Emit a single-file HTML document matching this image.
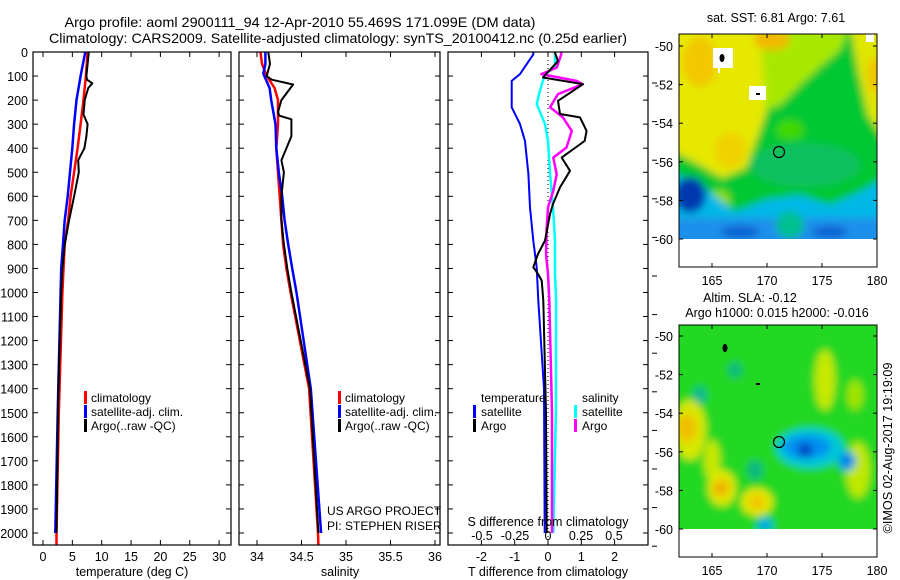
<!DOCTYPE html>
<html><head><meta charset="utf-8"><style>
html,body{margin:0;padding:0;background:#fff;}
svg{display:block;font-family:"Liberation Sans",sans-serif;}
text{fill:#000;}
</style></head><body>
<svg id="chart" width="900" height="580" viewBox="0 0 900 580" xmlns="http://www.w3.org/2000/svg">
<defs>
<filter id="blur" x="-10%" y="-10%" width="120%" height="120%"><feGaussianBlur stdDeviation="4"/></filter>
<clipPath id="clipTop"><rect x="679" y="34" width="198" height="205"/></clipPath>
<clipPath id="clipBot"><rect x="679" y="325" width="198" height="204"/></clipPath>
</defs>
<text x="300" y="27" font-size="14" text-anchor="middle" textLength="471" lengthAdjust="spacingAndGlyphs">Argo profile: aoml 2900111_94 12-Apr-2010 55.469S 171.099E (DM data)</text>
<text x="338" y="43" font-size="14" text-anchor="middle" textLength="578" lengthAdjust="spacingAndGlyphs">Climatology: CARS2009. Satellite-adjusted climatology: synTS_20100412.nc (0.25d earlier)</text>

<g id="p1"></g>
<g id="p2"></g>
<g id="p3"></g>

<!-- top map -->
<g>
<text x="776" y="22" font-size="12.5" text-anchor="middle">sat. SST: 6.81 Argo: 7.61</text>
<g clip-path="url(#clipTop)">
<g filter="url(#blur)">
<rect x="670" y="25" width="215" height="225" fill="#00c830"/>
<polygon points="670,25 790,25 785,60 772,95 760,130 746,168 722,178 700,165 670,150" fill="#e6e800"/>
<polygon points="760,25 850,25 840,50 822,65 800,85 780,105 765,110" fill="#a8e800"/>
<polygon points="850,25 885,25 885,140 868,115 858,70" fill="#dfe600"/>
<ellipse cx="700" cy="62" rx="18" ry="25" fill="#f2c800"/>
<ellipse cx="772" cy="40" rx="18" ry="10" fill="#f2b800"/>
<ellipse cx="875" cy="75" rx="8" ry="18" fill="#f0c400"/>
<ellipse cx="730" cy="150" rx="16" ry="18" fill="#f0d200"/>
<ellipse cx="790" cy="130" rx="14" ry="10" fill="#40d800"/>
<ellipse cx="805" cy="165" rx="55" ry="22" fill="#10c060"/>
<ellipse cx="720" cy="200" rx="10" ry="10" fill="#90e000"/>
<ellipse cx="758" cy="215" rx="8" ry="12" fill="#50d000"/>
<polygon points="670,172 705,188 735,212 765,200 800,195 830,205 860,192 885,178 885,250 670,250" fill="#00b8e8"/>
<polygon points="670,218 885,218 885,250 670,250" fill="#1a90ea"/>
<ellipse cx="690" cy="195" rx="16" ry="18" fill="#0038b0"/>
<ellipse cx="740" cy="232" rx="20" ry="6" fill="#1060d0"/>
<ellipse cx="830" cy="232" rx="18" ry="6" fill="#1060d0"/>
<ellipse cx="790" cy="225" rx="14" ry="14" fill="#00c090"/>
</g>
<rect x="713" y="48" width="20" height="20" fill="#fff"/>
<rect x="718" y="68" width="2" height="5" fill="#fff"/>
<ellipse cx="722" cy="58" rx="2.5" ry="4" fill="#000"/>
<rect x="749" y="86" width="17" height="14" fill="#fff"/>
<rect x="756" y="93" width="4" height="2" fill="#000"/>
<rect x="866" y="34" width="8" height="8" fill="#fff"/>
</g>
<circle cx="779" cy="152" r="5.5" fill="none" stroke="#000" stroke-width="1.2"/>
<rect x="679" y="34" width="198" height="233" fill="none" stroke="#000" stroke-width="1"/>
<g id="mapTopAxes"></g>
</g>

<!-- bottom map -->
<g>
<text x="750" y="302" font-size="12.5" text-anchor="middle">Altim. SLA: -0.12</text>
<text x="777" y="317" font-size="12.5" text-anchor="middle">Argo h1000: 0.015 h2000: -0.016</text>
<g clip-path="url(#clipBot)">
<g filter="url(#blur)">
<rect x="670" y="318" width="215" height="220" fill="#20d820"/>
<ellipse cx="690" cy="430" rx="16" ry="30" fill="#d8e800"/>
<ellipse cx="687" cy="428" rx="10" ry="14" fill="#f0c000"/>
<ellipse cx="712" cy="460" rx="8" ry="20" fill="#c8e800"/>
<ellipse cx="722" cy="488" rx="14" ry="18" fill="#e0e800"/>
<ellipse cx="721" cy="488" rx="8" ry="8" fill="#f0b000"/>
<ellipse cx="757" cy="502" rx="16" ry="14" fill="#e6e800"/>
<ellipse cx="757" cy="502" rx="7" ry="7" fill="#f0c000"/>
<ellipse cx="825" cy="380" rx="10" ry="30" fill="#c8e800"/>
<ellipse cx="858" cy="470" rx="12" ry="28" fill="#c0e800"/>
<ellipse cx="855" cy="395" rx="8" ry="15" fill="#a0e400"/>
<ellipse cx="735" cy="370" rx="7" ry="8" fill="#10b880"/>
<ellipse cx="700" cy="395" rx="7" ry="9" fill="#10b890"/>
<ellipse cx="755" cy="470" rx="8" ry="10" fill="#10b880"/>
<ellipse cx="765" cy="525" rx="8" ry="8" fill="#00b0e0"/>
<ellipse cx="810" cy="448" rx="34" ry="20" fill="#00c8d8"/>
<ellipse cx="807" cy="447" rx="24" ry="12" fill="#0090f0"/>
<ellipse cx="805" cy="450" rx="7" ry="7" fill="#0040c0"/>
<ellipse cx="847" cy="461" rx="9" ry="10" fill="#00a0f0"/>
<ellipse cx="847" cy="461" rx="4" ry="5" fill="#0070e0"/>
</g>
<ellipse cx="725" cy="348" rx="2.5" ry="4" fill="#000"/>
<rect x="756" y="383" width="4" height="2" fill="#000"/>
</g>
<circle cx="779" cy="442" r="5.5" fill="none" stroke="#000" stroke-width="1.2"/>
<rect x="679" y="325" width="198" height="232" fill="none" stroke="#000" stroke-width="1"/>
<g id="mapBotAxes"></g>
</g>
<text transform="translate(892,448) rotate(-90)" font-size="12.5" text-anchor="middle" textLength="171" lengthAdjust="spacingAndGlyphs">©IMOS 02-Aug-2017 19:19:09</text>
</svg>
<script>
// ---- data ----
const depthTicks = [0,100,200,300,400,500,600,700,800,900,1000,1100,1200,1300,1400,1500,1600,1700,1800,1900,2000];
const tempTicks = [0,5,10,15,20,25,30];
const salTicks = [34,34.5,35,35.5,36];
const salTickLabels = ["34","34.5","35","35.5","36"];
const tdiffTicks = [-2,-1,0,1,2];
const sdiffTicks = [-0.5,-0.25,0,0.25,0.5];
const sdiffTickLabels = ["-0.5","-0.25","0","0.25","0.5"];
const lonTicks = [165,170,175,180];
const latTicks = [-50,-52,-54,-56,-58,-60];

const tArgoDepth = [0,50,100,115,130,150,200,260,300,350,400,450,500,600,700,800,900,1000,1400,2000];
const tArgo      = [7.8,7.6,7.4,7.5,8.4,7.7,7.1,6.9,7.6,7.4,7.05,6.0,6.1,5.3,4.45,3.7,3.3,3.1,2.6,2.3];
const tClimDepth = [0,100,200,300,400,500,600,700,800,900,1000,1500,2000,2050];
const tClim      = [7.6,7.3,6.9,6.4,5.9,5.3,4.7,4.3,3.7,3.5,3.3,2.7,2.3,2.3];
const tSatDepth  = [0,100,200,300,400,500,600,700,800,900,1000,1500,2000];
const tSat       = [7.2,6.4,5.7,5.3,5.0,4.6,4.2,3.7,3.4,3.1,3.0,2.5,2.1];

const sArgoDepth = [0,50,100,115,135,200,250,265,280,350,450,500,600,700,800,900,1000,1400,2000];
const sArgo      = [34.127,34.146,34.109,34.165,34.406,34.274,34.236,34.25,34.387,34.387,34.274,34.302,34.274,34.274,34.302,34.34,34.387,34.595,34.69];
const sClimDepth = [0,50,100,150,200,300,400,500,600,700,800,900,1000,1400,2000,2050];
const sClim      = [34.038,34.057,34.109,34.198,34.236,34.236,34.217,34.236,34.255,34.274,34.293,34.33,34.378,34.585,34.685,34.69];
const sSatDepth  = [0,50,90,150,200,300,400,500,600,700,800,900,1000,1400,2000];
const sSat       = [34.094,34.094,34.071,34.142,34.16,34.208,34.217,34.245,34.283,34.31,34.35,34.396,34.444,34.604,34.72];

const dtSatDepth = [0,10,92,120,230,300,370,508,646,784,895,1033,1400,2000];
const dtSat      = [-0.44,-0.44,-0.84,-1.09,-1.09,-0.84,-0.69,-0.59,-0.54,-0.44,-0.34,-0.29,-0.12,-0.1];
const dtArgoDepth = [0,38,106,134,203,258,272,328,370,439,494,563,632,674,784,840,895,923,950,1033,1500,2000];
const dtArgo      = [0.2,0.3,-0.15,1.05,0.3,0.36,0.96,1.16,1.1,0.41,0.66,0.36,0.15,0.06,-0.09,-0.3,-0.44,-0.3,-0.19,-0.14,-0.06,-0.04];
const dsArgoDepth = [0,10,65,92,120,134,175,230,272,328,397,439,508,577,646,729,840,923,1033,1500,2000];
const dsArgo      = [0.10,0.10,0.066,-0.05,0.216,0.263,0.075,0.016,0.113,0.18,0.14,0.04,0.066,0.04,0,-0.01,-0.015,0,0.01,0.03,0.03];
const dsSatDepth = [0,10,65,92,161,217,300,370,508,646,784,923,1033,1500,2000];
const dsSat      = [0.053,0.053,0.053,-0.023,-0.061,-0.085,-0.023,0,0.016,0.038,0.053,0.053,0.061,0.06,0.04];

// ---- helpers ----
const NS = "http://www.w3.org/2000/svg";
function mk(tag, attrs, parent){const e=document.createElementNS(NS,tag);for(const k in attrs)e.setAttribute(k,attrs[k]);parent.appendChild(e);return e;}
const Y0=52, YB=545;
function yDepth(d){return Y0 + d*0.2405;}
function xTemp(t){return 43 + t*5.87;}
function xSal(s){return 257 + (s-34)*89;}
function xTd(t){return 548 + t*33.3;}
function xSd(s){return 548 + s*132;}

function frame(g,x0,x1,name){
  const r=mk('rect',{x:x0,y:Y0,width:x1-x0,height:YB-Y0,fill:'none',stroke:'#000','stroke-width':1.2},g);
  
  
}
function yticks(g,x0,x1,labels){
  depthTicks.forEach(d=>{
    const y=yDepth(d);
    mk('line',{x1:x0,x2:x0+5,y1:y,y2:y,stroke:'#000'},g);
    mk('line',{x1:x1-5,x2:x1,y1:y,y2:y,stroke:'#000'},g);
    if(labels){
      const t=mk('text',{x:28,y:y+5,'font-size':12.5,'text-anchor':'end'},g);
      t.textContent=d;
      
      
    }
  });
}
function xticks(g,vals,labels,fx,ly,name){
  vals.forEach((v,i)=>{
    const x=fx(v);
    mk('line',{x1:x,x2:x,y1:Y0,y2:Y0+5,stroke:'#000'},g);
    mk('line',{x1:x,x2:x,y1:YB-5,y2:YB,stroke:'#000'},g);
    const t=mk('text',{x:x,y:ly,'font-size':12.5,'text-anchor':'middle'},g);
    t.textContent=labels[i];
    
    
  });
}
function line(g,depths,vals,fx,color,w,name,dash){
  const pts=depths.map((d,i)=>fx(vals[i]).toFixed(1)+','+yDepth(d).toFixed(1)).join(' ');
  const a={points:pts,fill:'none',stroke:color,'stroke-width':w,'stroke-linejoin':'round'};
  if(dash)a['stroke-dasharray']=dash;
  const p=mk('polyline',a,g);
  
  
}
function label(g,x,y,txt,name,size,anchor){
  const t=mk('text',{x:x,y:y,'font-size':size||12.5,'text-anchor':anchor||'start'},g);
  t.textContent=txt;
  
  
  return t;
}
function legBar(g,x,y,color,name){
  const r=mk('rect',{x:x,y:y-11,width:3,height:13,fill:color},g);
  
  
}

// ---- panel 1 ----
const p1=document.getElementById('p1');
line(p1,tClimDepth,tClim,xTemp,'#ff0000',2.5,'temp-climatology-line');
line(p1,tSatDepth,tSat,xTemp,'#0000ff',2.5,'temp-satellite-line');
line(p1,tArgoDepth,tArgo,xTemp,'#000000',2,'temp-argo-line');
frame(p1,33,231,'temperature-panel');
yticks(p1,33,231,true);
xticks(p1,tempTicks,tempTicks.map(String),xTemp,561,'temp-tick-label');
label(p1,132,576,'temperature (deg C)','temp-axis-title',12.5,'middle');
legBar(p1,84,402,'#ff0000','legend-climatology-swatch');
label(p1,91,402,'climatology','legend-climatology',12);
legBar(p1,84,416,'#0000ff','legend-satellite-swatch');
label(p1,91,416,'satellite-adj. clim.','legend-satellite',12);
legBar(p1,84,430,'#000000','legend-argo-swatch');
label(p1,91,430,'Argo(..raw -QC)','legend-argo',12);

// ---- panel 2 ----
const p2=document.getElementById('p2');
line(p2,sClimDepth,sClim,xSal,'#ff0000',2.5,'sal-climatology-line');
line(p2,sSatDepth,sSat,xSal,'#0000ff',2.5,'sal-satellite-line');
line(p2,sArgoDepth,sArgo,xSal,'#000000',2,'sal-argo-line');
frame(p2,239,440,'salinity-panel');
yticks(p2,239,440,false);
xticks(p2,salTicks,salTickLabels,xSal,561,'sal-tick-label');
label(p2,340,576,'salinity','sal-axis-title',12.5,'middle');
legBar(p2,338,402,'#ff0000','legend-climatology-swatch');
label(p2,345,402,'climatology','legend-climatology',12);
legBar(p2,338,416,'#0000ff','legend-satellite-swatch');
label(p2,345,416,'satellite-adj. clim.','legend-satellite',12);
legBar(p2,338,430,'#000000','legend-argo-swatch');
label(p2,345,430,'Argo(..raw -QC)','legend-argo',12);
label(p2,327,515,'US ARGO PROJECT','project-label',12);
label(p2,327,530,'PI: STEPHEN RISER','pi-label',12);

// ---- panel 3 ----
const p3=document.getElementById('p3');
const zl=mk('line',{x1:xTd(0),x2:xTd(0),y1:Y0,y2:YB,stroke:'#000','stroke-dasharray':'1,3'},p3);


line(p3,dtSatDepth,dtSat,xTd,'#0000ff',2,'tdiff-satellite-line');
line(p3,dsSatDepth,dsSat,xSd,'#00ffff',2.5,'sdiff-satellite-line');
line(p3,dsArgoDepth,dsArgo,xSd,'#ff00ff',2.5,'sdiff-argo-line');
line(p3,dtArgoDepth,dtArgo,xTd,'#000000',2,'tdiff-argo-line');
frame(p3,448,648,'difference-panel');
yticks(p3,448,648,false);
xticks(p3,tdiffTicks,tdiffTicks.map(String),xTd,561,'tdiff-tick-label');
sdiffTicks.forEach((v,i)=>{
  label(p3,xSd(v),540,sdiffTickLabels[i],'sdiff-tick-label',12.5,'middle');
});
label(p3,548,526,'S difference from climatology','sdiff-axis-title',12.5,'middle');
label(p3,548,576,'T difference from climatology','tdiff-axis-title',12.5,'middle');
label(p3,481,402,'temperature','legend-temperature-heading',12);
legBar(p3,473,416,'#0000ff','legend-temp-satellite-swatch');
label(p3,481,416,'satellite','legend-temp-satellite',12);
legBar(p3,473,430,'#000000','legend-temp-argo-swatch');
label(p3,481,430,'Argo','legend-temp-argo',12);
label(p3,582,402,'salinity','legend-salinity-heading',12);
legBar(p3,574,416,'#00ffff','legend-sal-satellite-swatch');
label(p3,582,416,'satellite','legend-sal-satellite',12);
legBar(p3,574,430,'#ff00ff','legend-sal-argo-swatch');
label(p3,582,430,'Argo','legend-sal-argo',12);
for(let k=0;k<13;k++){const y=83+38.6*k; mk('line',{x1:652,x2:657,y1:y,y2:y,stroke:'#000'},p3);}

// ---- map axes ----
function mapAxes(id,latY0,yTop,yBot,lonLabelY){
  const g=document.getElementById(id);
  lonTicks.forEach(l=>{
    const x=679+(l-162)*11;
    mk('line',{x1:x,x2:x,y1:yTop,y2:yTop+4,stroke:'#000'},g);
    mk('line',{x1:x,x2:x,y1:yBot-4,y2:yBot,stroke:'#000'},g);
    label(g,x,lonLabelY,String(l),'lon-tick-label',12.5,'middle');
  });
  latTicks.forEach(l=>{
    const y=latY0+(-50-l)*19.3;
    mk('line',{x1:679,x2:683,y1:y,y2:y,stroke:'#000'},g);
    mk('line',{x1:873,x2:877,y1:y,y2:y,stroke:'#000'},g);
    label(g,673,y+5,String(l),'lat-tick-label',12.5,'end');
  });
}
mapAxes('mapTopAxes',46,34,267,285);
mapAxes('mapBotAxes',336,325,557,575);
</script>
</body></html>
